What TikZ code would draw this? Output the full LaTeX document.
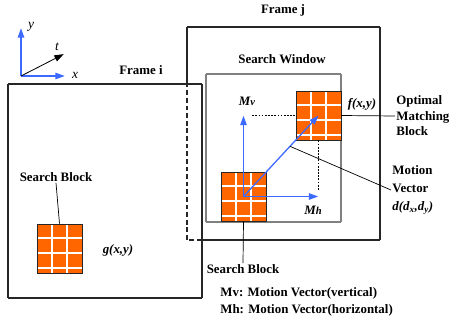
\documentclass[tikz,border=0pt]{standalone}
\usepackage{fontspec}
\setmainfont{Liberation Serif}
\newfontfamily\timesfont{Liberation Serif}
\usetikzlibrary{arrows.meta}
\definecolor{blkorange}{RGB}{255,102,0}
\definecolor{mvblue}{RGB}{60,105,255}
\tikzstyle{pnt}=[inner sep=0pt,minimum size=0pt]
\newcommand{\pnt}{\node[pnt]}
\tikzstyle{frame}=[draw=black!85,line width=1pt,line cap=rect]
\tikzstyle{dframe}=[draw=black!85,line width=1pt,dash pattern=on 4pt off 2.5pt]
\tikzstyle{window}=[draw=black!50,line width=0.9pt,line cap=rect]
\tikzstyle{gridln}=[white,line width=1pt]
\tikzstyle{block}=[draw=black!85,line width=0.8pt,fill=blkorange,inner sep=0pt,
  minimum width=1.35cm,minimum height=1.47cm,
  path picture={
    \foreach \i in {1,2}
      \draw[gridln] ([xshift=\i*0.45cm]path picture bounding box.north west) -- ([xshift=\i*0.45cm]path picture bounding box.south west);
    \foreach \j in {0.42,0.87,1.32}
      \draw[gridln] ([yshift=-\j cm]path picture bounding box.north west) -- ([yshift=-\j cm]path picture bounding box.north east);
  }]
\tikzstyle{lead}=[draw=black,line width=0.6pt]
\tikzstyle{dotln}=[draw=black,line width=0.6pt,dash pattern=on 1.5pt off 1.2pt]
\tikzstyle{mvec}=[draw=mvblue,line width=1.1pt,-{Triangle[length=8pt,width=5.5pt]}]
\tikzstyle{tvec}=[draw=black,line width=0.7pt,-{Triangle[length=8pt,width=5.5pt]}]
\tikzstyle{lbl}=[font=\timesfont\bfseries\fontsize{11}{13.2}\selectfont,inner sep=1pt]
\tikzstyle{var}=[font=\timesfont\bfseries\itshape\fontsize{11}{13.2}\selectfont,inner sep=1pt]
\tikzstyle{axlbl}=[font=\timesfont\itshape\fontsize{11.5}{13}\selectfont,inner sep=1pt]

\begin{document}
\begin{tikzpicture}[x=0.03cm,y=-0.03cm]
			\useasboundingbox (0,0) rectangle (450,327);
			% % % % % % % % % % % % % % % % % % % % % % % % % % % % %
			\pnt [] (ax0) at (21,76) {};
			\pnt [] (axy) at (21,28) {};
			\pnt [] (axx) at (65,76) {};
			\pnt [] (axt) at (64,54) {};
			%*********************
			\pnt [] (fi1) at (8,84) {};
			\pnt [] (fi2) at (202,84) {};
			\pnt [] (fi3) at (202,298) {};
			\pnt [] (fi4) at (8,298) {};
			%*********************
			\pnt [] (fj1) at (187,27) {};
			\pnt [] (fj2) at (380,27) {};
			\pnt [] (fj3) at (380,240) {};
			\pnt [] (fj4) at (202,240) {};
			\pnt [] (fj5) at (187,240) {};
			\pnt [] (fj6) at (187,84) {};
			%*********************
			\pnt [] (w1) at (206,74) {};
			\pnt [] (w2) at (341,74) {};
			\pnt [] (w3) at (341,222) {};
			\pnt [] (w4) at (206,222) {};
			%*********************
			\pnt [] (mvtip) at (243.5,115.5) {};
			\pnt [] (mhtip) at (318.5,196.5) {};
			\pnt [] (dh) at (252,115.5) {};
			\pnt [] (dv) at (318.5,190) {};
			\pnt [] (mvp) at (290,146.3) {};
			\path
			% % % % % % % % % % % % % % % % %
			(fi1) edge [frame] (fi2)
			(fi2) edge [frame] (fi3)
			(fi3) edge [frame] (fi4)
			(fi4) edge [frame] (fi1)
			%**************
			(fj6) edge [frame] (fj1)
			(fj1) edge [frame] (fj2)
			(fj2) edge [frame] (fj3)
			(fj3) edge [frame] (fj4)
			(fj4) edge [dframe] (fj5)
			(fj5) edge [dframe] (fj6)
			%**************
			(w1) edge [window] (w2)
			(w2) edge [window] (w3)
			(w3) edge [window] (w4)
			(w4) edge [window] (w1)
			;
			% % % % % % % % % % % % % % % % %
			\node [block] (blkA) at (59.5,248.5) {};
			\node [block] (blkB) at (243.5,196.5) {};
			\node [block] (blkC) at (318.5,115.5) {};
			%*********************
			\node [lbl] (frmi) at (141,70) {Frame i};
			\node [lbl] (frmj) at (283,10) {Frame j};
			\node [lbl] (swin) at (282,59) {Search Window};
			\node [lbl] (sbA) at (56,177) {Search Block};
			\node [lbl] (sbB) at (243,269) {Search Block};
			\node [lbl,anchor=west,align=left] (opt) at (395,116) {Optimal\\Matching\\Block};
			\node [lbl,anchor=west,align=left,font=\timesfont\bfseries\fontsize{11}{15}\selectfont] (mvt) at (391,190)
				{Motion\\Vector\\\textit{d(d\textsubscript{x},d\textsubscript{y})}};
			\node [lbl,anchor=west,align=left,font=\timesfont\bfseries\fontsize{11}{15}\selectfont] (leg) at (219,302)
				{Mv: Motion Vector(vertical)\\Mh: Motion Vector(horizontal)};
			\node [var] (gxy) at (118,250) {g(x,y)};
			\node [var] (fxy) at (362,104) {f(x,y)};
			\node [var] (mv) at (247,101) {M{\small v}};
			\node [var] (mh) at (313,210) {M{\small h}};
			\node [axlbl] (ly) at (31,27) {y};
			\node [axlbl] (lt) at (57,47) {t};
			\node [axlbl] (lx) at (75,75) {x};
			\path
			% % % % % % % % % % % % % % % % %
			(ax0) edge [mvec] (axy)
			(ax0) edge [mvec] (axx)
			(ax0) edge [tvec] (axt)
			%**************
			(dh) edge [dotln] (blkC.west)
			(blkC.south) edge [dotln] (dv)
			(blkB.center) edge [mvec] (mvtip)
			(blkB.center) edge [mvec] (mhtip)
			(blkB.center) edge [mvec] (blkC.center)
			%**************
			(sbA.south) edge [lead] (blkA.north)
			(blkB.south) edge [lead] (sbB.north)
			(blkC.east) edge [lead] (opt.west)
			(mvp) edge [lead] (mvt.west)
			;
\end{tikzpicture}
\end{document}
